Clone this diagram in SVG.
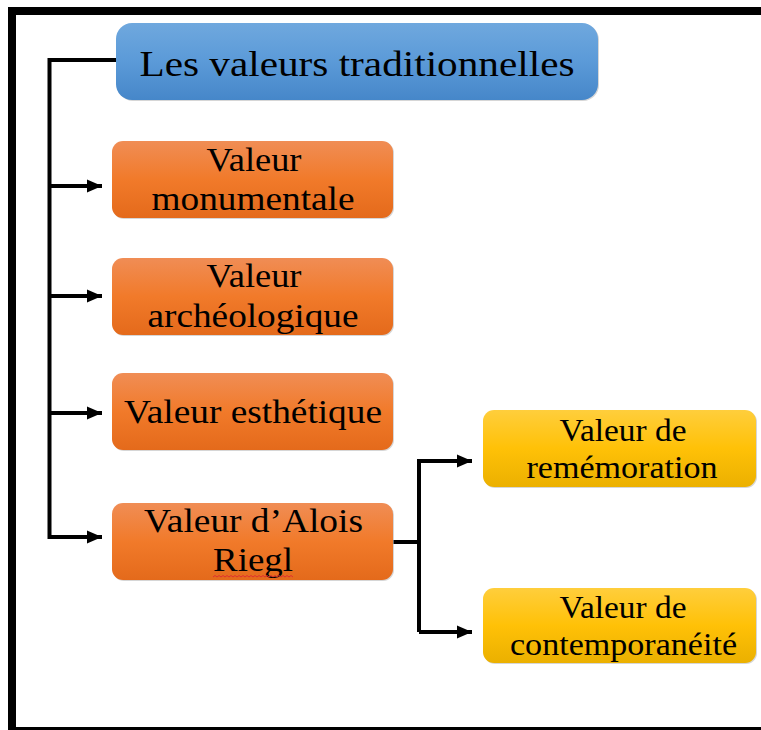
<svg xmlns="http://www.w3.org/2000/svg" width="761" height="730" viewBox="0 0 761 730">
  <defs>
    <linearGradient id="gBlue" x1="0" y1="0" x2="0" y2="1">
      <stop offset="0" stop-color="#6FA8DE"/>
      <stop offset="0.5" stop-color="#5B9AD8"/>
      <stop offset="1" stop-color="#4687C9"/>
    </linearGradient>
    <linearGradient id="gOrange" x1="0" y1="0" x2="0" y2="1">
      <stop offset="0" stop-color="#F08D55"/>
      <stop offset="0.5" stop-color="#F17A2A"/>
      <stop offset="1" stop-color="#E46A1B"/>
    </linearGradient>
    <linearGradient id="gYellow" x1="0" y1="0" x2="0" y2="1">
      <stop offset="0" stop-color="#FFCE3C"/>
      <stop offset="0.5" stop-color="#FFC107"/>
      <stop offset="1" stop-color="#EBB000"/>
    </linearGradient>
    <marker id="arrow" markerUnits="userSpaceOnUse" markerWidth="16" markerHeight="14" refX="15" refY="7" orient="auto">
      <path d="M0,0.5 L15,7 L0,13.5 z" fill="#000"/>
    </marker>
  </defs>
  <style>
    .shadow { fill: #BBBBBB; opacity: 0.6; }
    .t { font-family: "Liberation Serif", "Times New Roman", serif; fill: #000; text-anchor: middle; }
    .title { font-size: 36px; }
    .lbl { font-size: 34px; }
    .ylbl { font-size: 32px; }
    .conn { fill: none; stroke: #000; stroke-width: 4; }
  </style>

  <rect x="0" y="0" width="761" height="730" fill="#FFFFFF"/>
  <rect x="12" y="11" width="800" height="720" fill="none" stroke="#000" stroke-width="8"/>

  <g id="connectors">
    <path class="conn" d="M116,60 H49.5 V537 H102" marker-end="url(#arrow)"/>
    <path class="conn" d="M49.5,186 H102" marker-end="url(#arrow)"/>
    <path class="conn" d="M49.5,296 H102" marker-end="url(#arrow)"/>
    <path class="conn" d="M49.5,413 H102" marker-end="url(#arrow)"/>
    <path class="conn" d="M393,542 H419"/>
    <path class="conn" d="M419,632 V461 H472" marker-end="url(#arrow)"/>
    <path class="conn" d="M419,632 H472" marker-end="url(#arrow)"/>
  </g>

  <g id="node-traditionnelles">
    <rect class="shadow" x="117" y="24" width="482" height="77" rx="16"/>
    <rect x="116" y="23" width="482" height="77" rx="16" fill="url(#gBlue)"/>
    <text class="t title" x="357" y="76" textLength="435" lengthAdjust="spacingAndGlyphs">Les valeurs traditionnelles</text>
  </g>

  <g id="node-monumentale">
    <rect class="shadow" x="113" y="142" width="281" height="77" rx="11"/>
    <rect x="112" y="141" width="281" height="77" rx="11" fill="url(#gOrange)"/>
    <text class="t lbl" x="254" y="171" textLength="95" lengthAdjust="spacingAndGlyphs">Valeur</text>
    <text class="t lbl" x="253" y="210" textLength="203" lengthAdjust="spacingAndGlyphs">monumentale</text>
  </g>

  <g id="node-archeologique">
    <rect class="shadow" x="113" y="259" width="281" height="77" rx="11"/>
    <rect x="112" y="258" width="281" height="77" rx="11" fill="url(#gOrange)"/>
    <text class="t lbl" x="254" y="287" textLength="95" lengthAdjust="spacingAndGlyphs">Valeur</text>
    <text class="t lbl" x="253" y="327" textLength="211" lengthAdjust="spacingAndGlyphs">archéologique</text>
  </g>

  <g id="node-esthetique">
    <rect class="shadow" x="113" y="374" width="281" height="77" rx="11"/>
    <rect x="112" y="373" width="281" height="77" rx="11" fill="url(#gOrange)"/>
    <text class="t lbl" x="253" y="423" textLength="258" lengthAdjust="spacingAndGlyphs">Valeur esthétique</text>
  </g>

  <g id="node-riegl">
    <rect class="shadow" x="113" y="504" width="281" height="77" rx="11"/>
    <rect x="112" y="503" width="281" height="77" rx="11" fill="url(#gOrange)"/>
    <text class="t lbl" x="253.5" y="532" textLength="219" lengthAdjust="spacingAndGlyphs">Valeur d’Alois</text>
    <text class="t lbl" x="253" y="571" textLength="80" lengthAdjust="spacingAndGlyphs">Riegl</text>
    <path d="M213,577 l2,-1.5 l2,1.5 l2,-1.5 l2,1.5 l2,-1.5 l2,1.5 l2,-1.5 l2,1.5 l2,-1.5 l2,1.5 l2,-1.5 l2,1.5 l2,-1.5 l2,1.5 l2,-1.5 l2,1.5 l2,-1.5 l2,1.5 l2,-1.5 l2,1.5 l2,-1.5 l2,1.5 l2,-1.5 l2,1.5 l2,-1.5 l2,1.5 l2,-1.5 l2,1.5 l2,-1.5 l2,1.5 l2,-1.5 l2,1.5 l2,-1.5 l2,1.5 l2,-1.5 l2,1.5 l2,-1.5 l2,1.5 l2,-1.5 l2,1.5" fill="none" stroke="#E03030" stroke-width="1"/>
  </g>

  <g id="node-rememoration">
    <rect class="shadow" x="484" y="411" width="273" height="77" rx="11"/>
    <rect x="483" y="410" width="273" height="77" rx="11" fill="url(#gYellow)"/>
    <text class="t ylbl" x="623" y="441" textLength="127" lengthAdjust="spacingAndGlyphs">Valeur de</text>
    <text class="t ylbl" x="622" y="478" textLength="191" lengthAdjust="spacingAndGlyphs">remémoration</text>
  </g>

  <g id="node-contemporaneite">
    <rect class="shadow" x="484" y="589" width="273" height="75" rx="11"/>
    <rect x="483" y="588" width="273" height="75" rx="11" fill="url(#gYellow)"/>
    <text class="t ylbl" x="623" y="618" textLength="127" lengthAdjust="spacingAndGlyphs">Valeur de</text>
    <text class="t ylbl" x="623.5" y="655" textLength="227" lengthAdjust="spacingAndGlyphs">contemporanéité</text>
  </g>
</svg>
